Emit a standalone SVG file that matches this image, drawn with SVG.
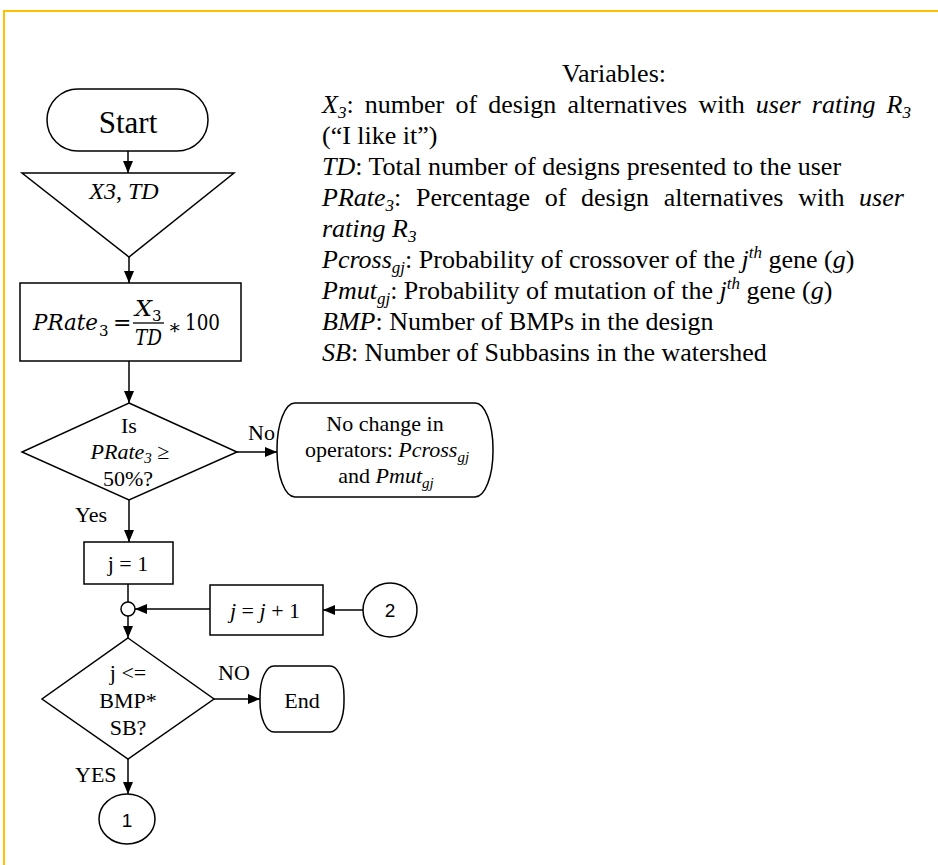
<svg xmlns="http://www.w3.org/2000/svg" width="938" height="865" viewBox="0 0 938 865">
<defs>
<marker id="ah" viewBox="0 0 12 10" refX="12" refY="5" markerWidth="12" markerHeight="10" markerUnits="userSpaceOnUse" orient="auto">
<path d="M0,0 L12,5 L0,10 z" fill="#000"/>
</marker>
<style>
.s{fill:#fff;stroke:#000;stroke-width:1.5}
.t{font-family:"Liberation Serif","Times New Roman",serif;fill:#000;font-size:22px}
.m{font-family:"DejaVu Serif",serif;fill:#000;font-size:22px}
.n{font-family:"Liberation Sans",Arial,sans-serif;fill:#000;font-size:19px}
.c{text-anchor:middle}
.i{font-style:italic}
.ln{stroke:#000;stroke-width:1.5;fill:none}
.a{marker-end:url(#ah)}
.v{font-family:"Liberation Serif","Times New Roman",serif;fill:#000;font-size:26px}
.sb{font-size:17px}
</style>
</defs>
<rect width="938" height="865" fill="#fff"/>
<path d="M4,865 V11 H938" fill="none" stroke="#FFC000" stroke-width="2"/>

<g id="start">
<rect class="s" x="47" y="89" width="161" height="62" rx="31"/>
<text class="t c" x="128" y="133" style="font-size:31px">Start</text>
</g>

<g id="input">
<polygon class="s" points="22,173 234,173 129,257"/>
<text class="t c" x="124" y="199" style="font-size:24px"><tspan class="i">X3</tspan>, <tspan class="i">TD</tspan></text>
</g>

<g id="calc">
<rect class="s" x="20" y="283" width="221" height="78"/>
<text class="m i" x="33" y="330" textLength="65" lengthAdjust="spacingAndGlyphs">PRate</text>
<text class="m" x="99" y="336" style="font-size:15px">3</text>
<text class="m" x="113" y="330" style="font-size:22px">=</text>
<text class="m i" x="135" y="316" textLength="17" lengthAdjust="spacingAndGlyphs">X</text>
<text class="m" x="152" y="321" style="font-size:15px">3</text>
<line x1="133" y1="323" x2="164" y2="323" stroke="#000" stroke-width="1.3"/>
<text class="m i" x="135" y="345" textLength="27" lengthAdjust="spacingAndGlyphs">TD</text>
<text class="m" x="168" y="334" style="font-size:20px">∗</text>
<text class="m" x="185" y="330" textLength="35" lengthAdjust="spacingAndGlyphs">100</text>
</g>

<g id="decision1">
<polygon class="s" points="129,403 237,452 129,500 22,452"/>
<text class="t c" x="129" y="433">Is</text>
<text class="t c" x="130" y="459"><tspan class="i">PRate</tspan><tspan class="i" style="font-size:15px" dy="4">3</tspan><tspan dy="-4"> ≥</tspan></text>
<text class="t c" x="128" y="486">50%?</text>
</g>

<g id="nochange">
<rect class="s" x="277" y="403" width="216" height="94" rx="18" ry="46"/>
<text class="t c" x="385" y="431">No change in</text>
<text class="t c" x="387" y="457">operators: <tspan class="i">Pcross</tspan><tspan class="i" style="font-size:15px" dy="5">gj</tspan></text>
<text class="t c" x="386" y="483">and <tspan class="i">Pmut</tspan><tspan class="i" style="font-size:15px" dy="5">gj</tspan></text>
</g>

<g id="init">
<rect class="s" x="84" y="542" width="89" height="42"/>
<text class="t c" x="128" y="571">j = 1</text>
</g>

<g id="merge">
<circle class="s" cx="128" cy="609" r="7"/>
</g>

<g id="increment">
<rect class="s" x="210" y="585" width="113" height="50"/>
<text class="t c" x="265" y="618"><tspan class="i">j</tspan> = <tspan class="i">j</tspan> + 1</text>
</g>

<g id="connector2">
<circle class="s" cx="390" cy="610" r="27"/>
<text class="n c" x="390" y="617">2</text>
</g>

<g id="decision2">
<polygon class="s" points="128,638 214,699 128,759 42,699"/>
<text class="t c" x="128" y="680">j &lt;=</text>
<text class="t c" x="128" y="708">BMP*</text>
<text class="t c" x="128" y="735">SB?</text>
</g>

<g id="end">
<rect class="s" x="260" y="666" width="84" height="66" rx="14" ry="30"/>
<text class="t c" x="302" y="708">End</text>
</g>

<g id="connector1">
<ellipse class="s" cx="127" cy="819" rx="28" ry="25"/>
<text class="n c" x="127" y="827">1</text>
</g>

<g id="connectors">
<path class="ln a" d="M128,151 V173"/>
<path class="ln a" d="M129,257 V283"/>
<path class="ln a" d="M129,361 V403"/>
<path class="ln a" d="M237,452 H277"/>
<path class="ln a" d="M129,500 V542"/>
<path class="ln" d="M128,584 V602"/>
<path class="ln a" d="M128,616 V638"/>
<path class="ln a" d="M210,609 H135"/>
<path class="ln a" d="M363,610 H323"/>
<path class="ln a" d="M214,699 H260"/>
<path class="ln a" d="M128,759 V794"/>
<text class="t" x="248" y="440">No</text>
<text class="t" x="75" y="522">Yes</text>
<text class="t" x="218" y="680">NO</text>
<text class="t" x="75" y="782">YES</text>
</g>

<g id="variables">
<text class="v c" x="614" y="82">Variables:</text>
<text class="v" x="322" y="113" style="word-spacing:4.7px"><tspan class="i">X</tspan><tspan class="i sb" dy="5">3</tspan><tspan dy="-5">: number of design alternatives with </tspan><tspan class="i">user rating R</tspan><tspan class="i sb" dy="5">3</tspan></text>
<text class="v" x="322" y="144">(“I like it”)</text>
<text class="v" x="322" y="175"><tspan class="i">TD</tspan>: Total number of designs presented to the user</text>
<text class="v" x="322" y="206" style="word-spacing:8.2px"><tspan class="i">PRate</tspan><tspan class="i sb" dy="5">3</tspan><tspan dy="-5">: Percentage of design alternatives with </tspan><tspan class="i">user</tspan></text>
<text class="v" x="322" y="237"><tspan class="i">rating R</tspan><tspan class="i sb" dy="5">3</tspan></text>
<text class="v" x="322" y="268"><tspan class="i">Pcross</tspan><tspan class="i sb" dy="5">gj</tspan><tspan dy="-5">: Probability of crossover of the </tspan><tspan class="i">j</tspan><tspan class="i sb" dy="-10">th</tspan><tspan dy="10"> gene (</tspan><tspan class="i">g</tspan>)</text>
<text class="v" x="322" y="299"><tspan class="i">Pmut</tspan><tspan class="i sb" dy="5">gj</tspan><tspan dy="-5">: Probability of mutation of the </tspan><tspan class="i">j</tspan><tspan class="i sb" dy="-10">th</tspan><tspan dy="10"> gene (</tspan><tspan class="i">g</tspan>)</text>
<text class="v" x="322" y="330"><tspan class="i">BMP</tspan>: Number of BMPs in the design</text>
<text class="v" x="322" y="361"><tspan class="i">SB</tspan>: Number of Subbasins in the watershed</text>
</g>
</svg>
